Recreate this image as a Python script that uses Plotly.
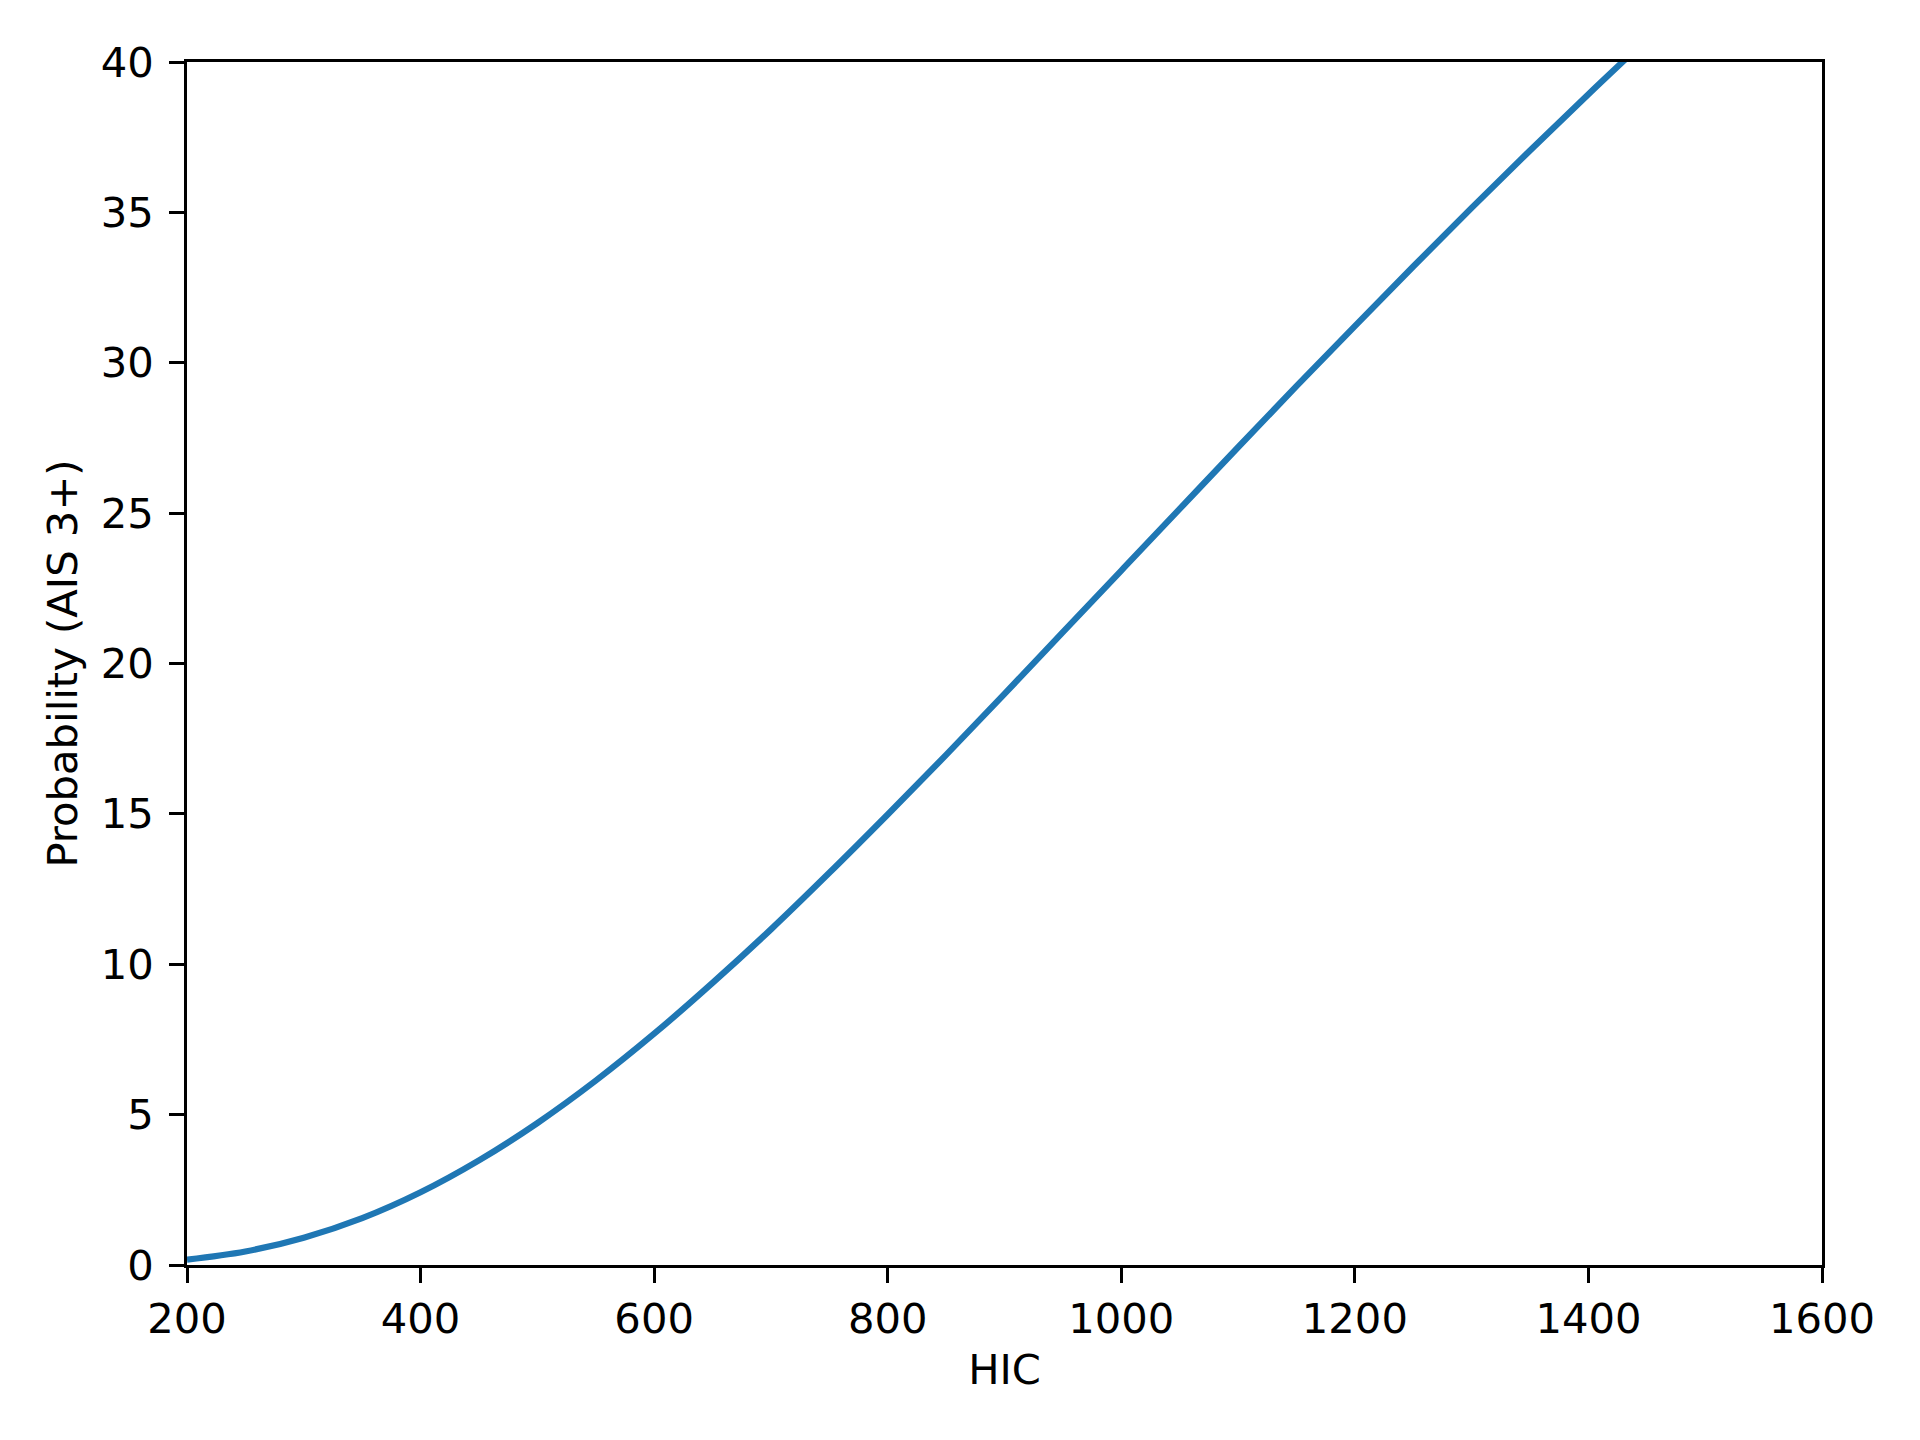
import plotly.graph_objects as go

# Values
hic = [200, 250, 300, 350, 400, 450, 500, 550, 600, 650, 700, 750, 800, 850,
       900, 950, 1000, 1050, 1100, 1150, 1200, 1250, 1300, 1350, 1400, 1450]
probability = [0.18, 0.45, 0.91, 1.56, 2.42, 3.48, 4.72, 6.13, 7.69, 9.38, 11.16,
               13.04, 14.98, 16.96, 18.99, 21.04, 23.09, 25.14, 27.19, 29.22,
               31.22, 33.20, 35.15, 37.06, 38.93, 40.76]

x_ticks = [200, 400, 600, 800, 1000, 1200, 1400, 1600]
y_ticks = [0, 5, 10, 15, 20, 25, 30, 35, 40]

FONT = "DejaVu Sans"
FS = 41.7

fig = go.Figure()
fig.add_trace(go.Scatter(
    x=hic, y=probability, mode="lines",
    line=dict(color="#1f77b4", width=6.25, shape="spline"),
    showlegend=False, cliponaxis=True,
))

axis_common = dict(
    showgrid=False, zeroline=False, showline=True, linecolor="black",
    linewidth=3.33, mirror=True, ticks="outside", ticklen=14.6,
    tickwidth=3.33, tickcolor="black",
    tickfont=dict(family=FONT, size=FS, color="black"),
)

fig.update_layout(
    width=1920, height=1440,
    margin=dict(l=179, r=106, t=54, b=183, autoexpand=False),
    paper_bgcolor="white", plot_bgcolor="white",
    font=dict(family=FONT, size=FS, color="black"),
    xaxis=dict(range=[200, 1600], tickvals=x_ticks,
               ticktext=[str(v) for v in x_ticks],
               ticklabelstandoff=0,
               title=dict(text="HIC", font=dict(family=FONT, size=FS), standoff=14),
               **axis_common),
    yaxis=dict(range=[0, 40], tickvals=y_ticks,
               ticktext=[str(v) for v in y_ticks],
               ticklabelstandoff=7,
               title=dict(text="Probability (AIS 3+)", font=dict(family=FONT, size=FS), standoff=11),
               **axis_common),
)

fig.write_html("out.html")
